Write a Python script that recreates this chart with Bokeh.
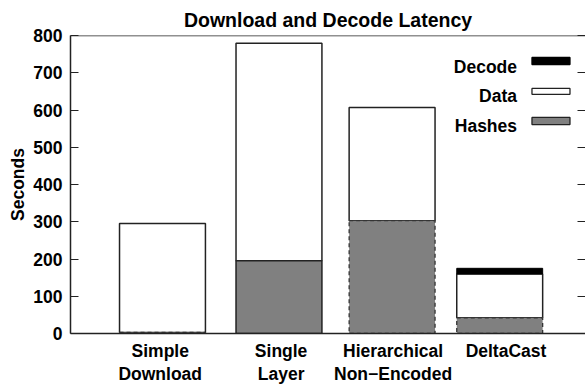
from bokeh.plotting import figure
from bokeh.models import Range1d, FixedTicker, Span, LinearAxis
from bokeh.embed import file_html
from bokeh.resources import INLINE
from bokeh.core.properties import value

# ---- data ----
categories = ["Simple\nDownload", "Single\nLayer", "Hierarchical\nNon\u2212Encoded", "DeltaCast"]
hashes = [3, 195, 303, 42]
data = [292, 584, 304, 118]
decode = [0, 0, 0, 15]
y_ticks = [0, 100, 200, 300, 400, 500, 600, 700, 800]
legend_labels = ["Decode", "Data", "Hashes"]

# ---- layout / style ----
bar_x = [0.998, 2.034, 3.04, 3.997]
label_x = [0.978, 2.053, 3.049, 4.053]
bar_w = 0.764
hash_dashed = [True, False, True, True]
FONT = "Liberation Sans"
GRAY = "#808080"
EDGE = "#222222"
FS = "17.5px"

data_bottom = hashes
data_top = [h + d for h, d in zip(hashes, data)]
dec_top = [t + c for t, c in zip(data_top, decode)]

p = figure(frame_width=515, frame_height=298, output_backend="svg", toolbar_location=None,
           x_range=Range1d(0.18, 4.76), y_range=Range1d(0, 800),
           title="Download and Decode Latency",
           min_border_left=70, min_border_right=0, min_border_top=35, min_border_bottom=0)
p.outline_line_color = None
p.xgrid.visible = False
p.ygrid.visible = False
p.background_fill_color = "white"

p.title.align = "center"
p.title.text_font = FONT
p.title.text_font_size = "19.5px"
p.title.text_font_style = "bold"
p.title.text_color = "black"
p.title.standoff = 10

# data boxes
p.vbar(x=bar_x, width=bar_w, bottom=data_bottom, top=data_top,
       fill_color="white", line_color=EDGE, line_width=1.5)
# hashes boxes
solid_idx = [i for i, d in enumerate(hash_dashed) if not d]
dash_idx = [i for i, d in enumerate(hash_dashed) if d]
p.vbar(x=[bar_x[i] for i in solid_idx], width=bar_w, bottom=0,
       top=[hashes[i] for i in solid_idx],
       fill_color=GRAY, line_color=EDGE, line_width=1.5)
p.vbar(x=[bar_x[i] for i in dash_idx], width=bar_w, bottom=0,
       top=[hashes[i] for i in dash_idx],
       fill_color=GRAY, line_color="#333333", line_width=1.3, line_dash="4 3")
# decode
dec_idx = [i for i, d in enumerate(decode) if d > 0]
p.vbar(x=[bar_x[i] for i in dec_idx], width=bar_w,
       bottom=[data_top[i] for i in dec_idx], top=[dec_top[i] for i in dec_idx],
       fill_color="black", line_color="black", line_width=1)

# legend (label left, sample right)
leg_text_x = 4.151
leg_text_y = [716, 637, 556]
leg_box_l, leg_box_r = 4.284, 4.622
leg_box_bottom = [722, 642, 561]
leg_box_top = [741, 658, 580]
leg_fill = ["black", "white", GRAY]
leg_line = ["black", EDGE, EDGE]
p.text(x=[leg_text_x] * 3, y=leg_text_y, text=legend_labels,
       text_align="right", text_baseline="middle",
       text_font=value(FONT), text_font_size=FS, text_font_style="bold",
       text_color="black")
p.quad(left=leg_box_l, right=leg_box_r, bottom=leg_box_bottom, top=leg_box_top,
       fill_color=leg_fill, line_color=leg_line, line_width=1.3)

# top border
p.add_layout(Span(location=800, dimension="width", line_color=EDGE, line_width=1.5))

# y axis
ya = p.yaxis[0]
ya.ticker = FixedTicker(ticks=y_ticks)
ya.axis_label = "Seconds"
ya.axis_label_text_font = FONT
ya.axis_label_text_font_size = FS
ya.axis_label_text_font_style = "bold"
ya.axis_label_text_color = "black"
ya.axis_label_standoff = 2
ya.major_label_text_font = FONT
ya.major_label_text_font_size = FS
ya.major_label_text_font_style = "bold"
ya.major_label_text_color = "black"
ya.major_label_standoff = 8
ya.major_tick_in = 8
ya.major_tick_out = 0
ya.minor_tick_line_color = None
ya.axis_line_color = EDGE
ya.axis_line_width = 1.5
ya.major_tick_line_color = EDGE

# right ticks (no labels)
ra = LinearAxis(ticker=FixedTicker(ticks=y_ticks))
ra.major_label_overrides = {t: "" for t in y_ticks}
ra.major_label_standoff = 0
ra.major_tick_in = 8
ra.major_tick_out = 0
ra.minor_tick_line_color = None
ra.axis_line_color = None
ra.major_tick_line_color = EDGE
p.add_layout(ra, "right")

# x axis
xa = p.xaxis[0]
xa.ticker = FixedTicker(ticks=label_x)
xa.major_label_overrides = {lx: c for lx, c in zip(label_x, categories)}
xa.major_label_text_font = FONT
xa.major_label_text_font_size = FS
xa.major_label_text_font_style = "bold"
xa.major_label_text_color = "black"
xa.major_label_text_line_height = 1.15
xa.major_label_standoff = 1
xa.major_tick_line_color = None
xa.minor_tick_line_color = None
xa.axis_line_color = EDGE
xa.axis_line_width = 1.5

open("out.html", "w").write(file_html(p, INLINE))
